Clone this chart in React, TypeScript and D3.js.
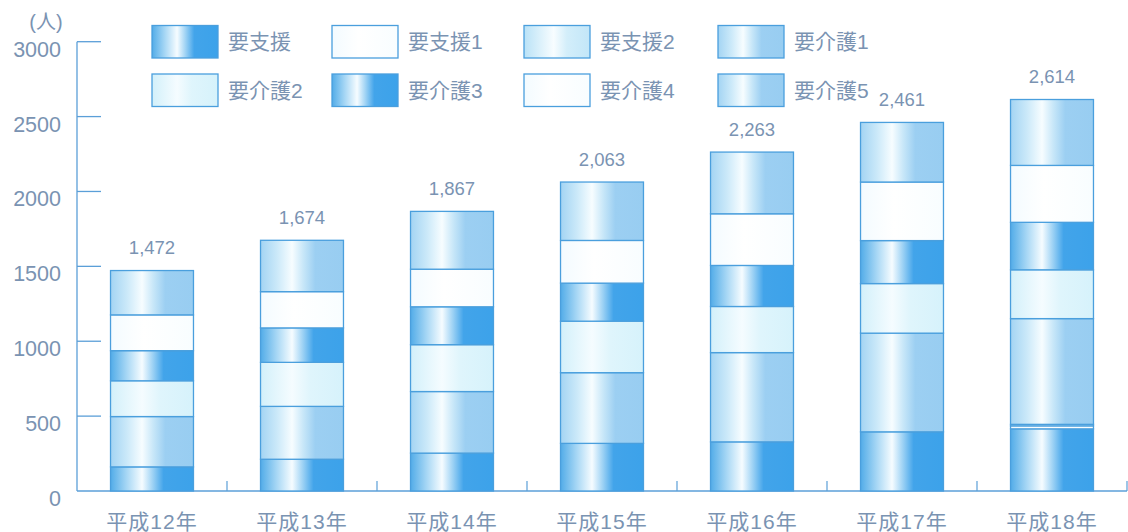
import React from "react";
import * as d3 from "d3";

const categories = ["平成12年", "平成13年", "平成14年", "平成15年", "平成16年", "平成17年", "平成18年"];
const seriesNames = ["要支援", "要支援1", "要支援2", "要介護1", "要介護2", "要介護3", "要介護4", "要介護5"];
const yoshien = [161, 212, 253, 318, 328, 395, 415];
const yoshien1 = [0, 0, 0, 0, 0, 0, 20];
const yoshien2 = [0, 0, 0, 0, 0, 0, 10];
const kaigo1 = [336, 353, 411, 472, 596, 659, 706];
const kaigo2 = [239, 294, 313, 344, 308, 331, 326];
const kaigo3 = [201, 230, 253, 254, 274, 287, 317];
const kaigo4 = [239, 242, 251, 285, 345, 391, 380];
const kaigo5 = [296, 343, 386, 390, 412, 398, 440];
const yTicks = [0, 500, 1000, 1500, 2000, 2500, 3000];
const unitLabel = "(人)";

const seriesValues = [yoshien, yoshien1, yoshien2, kaigo1, kaigo2, kaigo3, kaigo4, kaigo5];
const seriesStyle = ["dark", "white", "light", "medium", "pale", "dark", "white", "medium"];

const W = 1128, H = 532;
const axisX = 77, baseY = 491, topY = 41.7, rightX = 1127;
const textColor = "#7a93b2";
const axisColor = "#5b9fd8";
const edgeColor = "#4a9fdd";
const font = "'Liberation Sans', 'Noto Sans CJK JP', sans-serif";

const gradients: Record<string, [number, string][]> = {
  dark: [[0, "#52ace8"], [0.2, "#a9d8f5"], [0.38, "#f6fcff"], [0.5, "#a4d5f5"], [0.64, "#42a4ea"], [1, "#3ca2ea"]],
  medium: [[0, "#a3d4f3"], [0.2, "#cbe9f9"], [0.38, "#f7fdff"], [0.52, "#c6e6f8"], [0.66, "#9ccff2"], [1, "#98cdf1"]],
  light: [[0, "#b9e2f7"], [0.25, "#dcf1fb"], [0.45, "#f8fdff"], [0.65, "#d3eefa"], [1, "#c2e6f8"]],
  pale: [[0, "#d2f0fa"], [0.38, "#f5fcff"], [0.6, "#dff5fc"], [1, "#d6f2fb"]],
  white: [[0, "#f3fbff"], [0.4, "#ffffff"], [1, "#f8fdff"]],
};

export default function App() {
  const data = categories.map((c, i) => {
    const row: Record<string, any> = { cat: c };
    seriesNames.forEach((s, j) => (row[s] = seriesValues[j][i]));
    return row;
  });
  const stacked = d3.stack<any>().keys(seriesNames)(data);
  const totals = categories.map((_, i) => d3.sum(seriesValues, (v) => v[i]));

  const x = d3.scaleBand<string>().domain(categories).range([axisX, rightX]).paddingInner(0.447).paddingOuter(0.2235);
  const y = d3.scaleLinear().domain([0, 3000]).range([baseY, topY]);
  const fmt = d3.format(",");

  const legendX = [152, 332, 524, 718];
  const legendY = [25.5, 74];
  const swW = 66, swH = 32.5;

  return (
    <svg width={W} height={H} style={{ position: "absolute", left: 0, top: 0, background: "#fff" }} fontFamily={font}>
      <defs>
        {Object.entries(gradients).map(([k, stops]) => (
          <linearGradient key={k} id={`g-${k}`} x1="0" x2="1" y1="0" y2="0">
            {stops.map(([o, c], i) => (
              <stop key={i} offset={o} stopColor={c} />
            ))}
          </linearGradient>
        ))}
      </defs>

      {/* y axis */}
      <line x1={axisX} x2={axisX} y1={topY} y2={baseY} stroke={axisColor} strokeWidth={1.3} />
      {yTicks.map((t) => (
        <g key={t}>
          {t > 0 && <line x1={axisX} x2={axisX + 24} y1={y(t)} y2={y(t)} stroke={axisColor} strokeWidth={1.3} />}
          <text x={61} y={y(t) + 8} textAnchor="end" dominantBaseline="central" fontSize={21.5} fill={textColor}>
            {t}
          </text>
        </g>
      ))}
      <text x={46} y={22} textAnchor="middle" dominantBaseline="central" fontSize={20} fill={textColor}>
        {unitLabel}
      </text>

      {/* x axis */}
      <line x1={axisX} x2={rightX} y1={baseY} y2={baseY} stroke={axisColor} strokeWidth={1.3} />
      {categories.map((c, i) => (
        <line key={c} x1={axisX + x.step() * (i + 1)} x2={axisX + x.step() * (i + 1)} y1={baseY} y2={baseY - 10} stroke={axisColor} strokeWidth={1.2} />
      ))}
      {categories.map((c) => (
        <text key={c} x={(x(c) as number) + x.bandwidth() / 2} y={521} textAnchor="middle" dominantBaseline="central" fontSize={21} letterSpacing={1} fill={textColor}>
          {c}
        </text>
      ))}

      {/* bars */}
      {stacked.map((layer, j) => (
        <g key={layer.key}>
          {layer.map((d, i) =>
            d[1] - d[0] > 0 ? (
              <rect
                key={i}
                x={x(categories[i])}
                width={x.bandwidth()}
                y={y(d[1])}
                height={y(d[0]) - y(d[1])}
                fill={`url(#g-${seriesStyle[j]})`}
                stroke={edgeColor}
                strokeWidth={1.3}
              />
            ) : null
          )}
        </g>
      ))}

      {/* totals */}
      {categories.map((c, i) => (
        <text key={c} x={(x(c) as number) + x.bandwidth() / 2} y={y(totals[i]) - 23} textAnchor="middle" dominantBaseline="central" fontSize={18.5} fill={textColor}>
          {fmt(totals[i])}
        </text>
      ))}

      {/* legend */}
      {seriesNames.map((s, j) => {
        const col = j % 4, row = Math.floor(j / 4);
        const lx = legendX[col], ly = legendY[row];
        return (
          <g key={s}>
            <rect x={lx} y={ly} width={swW} height={swH} fill={`url(#g-${seriesStyle[j]})`} stroke={edgeColor} strokeWidth={1.3} />
            <text x={lx + swW + 10} y={ly + swH / 2} dominantBaseline="central" fontSize={21} fill={textColor}>
              {s}
            </text>
          </g>
        );
      })}
    </svg>
  );
}
